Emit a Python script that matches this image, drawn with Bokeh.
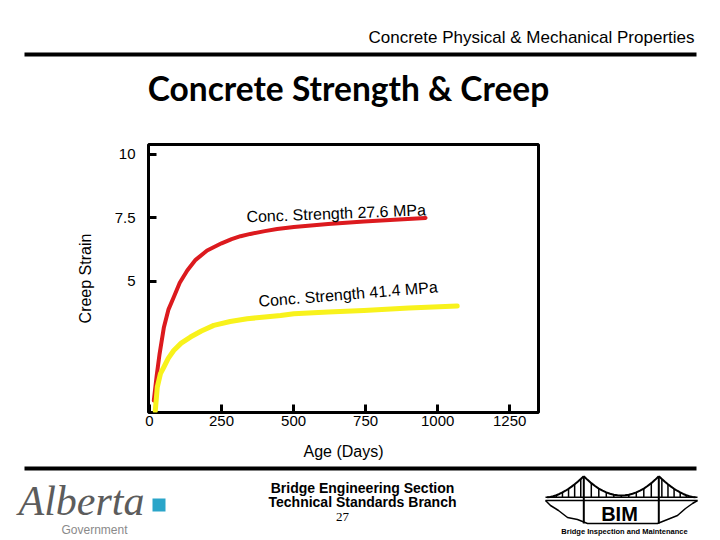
from bokeh.plotting import figure
from bokeh.models import Range1d, FixedTicker, CustomJSTickFormatter
from bokeh.core.properties import value
from bokeh.embed import file_html
from bokeh.resources import INLINE

# ---------------- data ----------------
age_red = [15, 25, 35, 50, 66, 84, 105, 131, 160, 200, 250, 285, 316, 350, 400, 443, 501, 620, 744, 850, 958]
strain_red = [0.31, 1.3, 2.15, 3.2, 3.9, 4.38, 4.95, 5.43, 5.85, 6.22, 6.50, 6.665, 6.78, 6.87, 6.98, 7.06, 7.14, 7.26, 7.36, 7.43, 7.5]

age_yellow = [20, 27, 38, 50, 65, 84, 110, 142, 180, 223, 280, 339, 400, 455, 501, 620, 744, 900, 1068]
strain_yellow = [-0.1, 0.84, 1.37, 1.63, 1.97, 2.28, 2.57, 2.81, 3.05, 3.27, 3.42, 3.53, 3.60, 3.66, 3.73, 3.80, 3.86, 3.95, 4.03]

series_labels = ["Conc. Strength 27.6 MPa", "Conc. Strength 41.4 MPa"]
label_age = [648, 689]
label_strain = [7.68, 4.5]
label_angle = [0.039, 0.081]

x_ticks = [0, 250, 500, 750, 1000, 1250]
y_ticks = [5, 7.5, 10]

header_text = "Concrete Physical & Mechanical Properties"
title_text = "Concrete Strength & Creep"
footer_lines = ["Bridge Engineering Section", "Technical Standards Branch"]
page_number = "27"

FONT = "Liberation Sans"
W = 704


def blank(height):
    fig = figure(width=W, height=height, x_range=Range1d(0, W), y_range=Range1d(height, 0),
                 output_backend="svg", toolbar_location=None,
                 x_axis_location=None, y_axis_location=None, min_border=0,
                 outline_line_color=None)
    fig.grid.grid_line_color = None
    return fig


def put(fig, x, y, txt, size, align="center", font=FONT, style="normal", color="#000000"):
    fig.text(x=x, y=y, text=txt, text_align=align, text_baseline="middle",
             text_font=value(font), text_font_style=style, text_font_size=value(size),
             text_color=color)


# ---------------- header (page y 0-130) ----------------
h = blank(130)
put(h, [694], [37], [header_text], "17px", align="right")
h.segment(x0=[24], y0=[54], x1=[696], y1=[54], line_color="#000000", line_width=4)
put(h, [348], [87.5], [title_text], "33.5px", font="Lato", style="bold")

# ---------------- main chart (page y 130-462) ----------------
p = figure(width=W, height=332, x_range=Range1d(-3.5, 1350), y_range=Range1d(-0.16, 10.39),
           output_backend="svg", toolbar_location=None,
           min_border_left=148, min_border_right=166, min_border_top=14, min_border_bottom=50,
           outline_line_color="#000000", outline_line_width=3)
p.grid.grid_line_color = None

p.xaxis.ticker = FixedTicker(ticks=x_ticks)
p.yaxis.ticker = FixedTicker(ticks=y_ticks)
p.yaxis.formatter = CustomJSTickFormatter(code="return tick.toString();")
p.xaxis.axis_label = "Age (Days)"
p.yaxis.axis_label = "Creep Strain"
for ax in (p.xaxis[0], p.yaxis[0]):
    ax.axis_line_color = None
    ax.major_tick_in = 8
    ax.major_tick_out = 0
    ax.major_tick_line_width = 3
    ax.major_tick_line_color = "#000000"
    ax.minor_tick_line_color = None
    ax.major_label_text_font = FONT
    ax.major_label_text_font_size = "15px"
    ax.major_label_text_color = "#000000"
    ax.axis_label_text_font = FONT
    ax.axis_label_text_font_size = "16px"
    ax.axis_label_text_font_style = "normal"
    ax.axis_label_text_color = "#000000"
p.xaxis.major_label_standoff = 3
p.xaxis.axis_label_standoff = 14
p.yaxis.major_label_standoff = 13
p.yaxis.axis_label_standoff = 18

p.line(age_red, strain_red, line_color="#dc1a1e", line_width=4, line_cap="round", line_join="round")
p.line(age_yellow, strain_yellow, line_color="#f8f21c", line_width=5, line_cap="round", line_join="round")

for i in range(2):
    p.text(x=[label_age[i]], y=[label_strain[i]], text=[series_labels[i]], angle=label_angle[i],
           text_align="center", text_baseline="middle",
           text_font=value(FONT), text_font_size=value("16px"), text_color="#000000")

# ---------------- footer (page y 462-540) ----------------
f = blank(78)
f.segment(x0=[24], y0=[6], x1=[696], y1=[6], line_color="#000000", line_width=4)

put(f, [362, 362], [25, 39.5], footer_lines, "14px", style="bold")
put(f, [342], [54.5], [page_number], "13px", font="Liberation Serif")

# Alberta logo
put(f, [18], [38], ["Alberta"], "42px", align="left", font="Liberation Serif", style="italic",
    color="#5c5c5c")
f.quad(left=[152], right=[165], top=[36], bottom=[49], fill_color="#2aa5c9", line_color=None)
put(f, [94], [67.5], ["Government"], "12px", color="#8a8a8a")

# BIM logo
tl = (583.3, 13.7)
tr = (658.3, 13.7)
deck_y = 34.7
mid = (tl[0] + tr[0]) / 2
half = (tr[0] - tl[0]) / 2
mx = [tl[0] + (tr[0] - tl[0]) * k / 20 for k in range(21)]
my = [tl[1] + (33 - tl[1]) * (1 - ((x - mid) / half) ** 2) for x in mx]
f.line(mx, my, line_color="#000000", line_width=2)
lx = [546.7 + (tl[0] - 546.7) * k / 12 for k in range(13)]
ly = [deck_y - (deck_y - tl[1]) * ((x - 546.7) / (tl[0] - 546.7)) ** 1.7 for x in lx]
f.line(lx, ly, line_color="#000000", line_width=2)
rx = [695.0 - (695.0 - tr[0]) * k / 12 for k in range(13)]
ry = [deck_y - (deck_y - tr[1]) * ((695.0 - x) / (695.0 - tr[0])) ** 1.7 for x in rx]
f.line(rx, ry, line_color="#000000", line_width=2)
hx, hy0 = [], []
for x, y in zip(mx[2:-2:2], my[2:-2:2]):
    hx.append(x); hy0.append(y)
for x, y in zip(lx[3:-1:2], ly[3:-1:2]):
    hx.append(x); hy0.append(y)
for x, y in zip(rx[3:-1:2], ry[3:-1:2]):
    hx.append(x); hy0.append(y)
f.segment(x0=hx, y0=hy0, x1=hx, y1=[deck_y] * len(hx), line_color="#000000", line_width=1.5)
f.segment(x0=[545, 545], y0=[deck_y, 38], x1=[697, 697], y1=[deck_y, 38], line_color="#000000", line_width=1.5)
f.segment(x0=[tl[0], tr[0]], y0=[tl[1], tr[1]], x1=[tl[0], tr[0]], y1=[61, 61], line_color="#000000", line_width=2)
gx = [545, 550, 558, 567, 577, 587, 657, 667, 677, 685, 692, 697]
gy = [38, 43, 48, 55, 57, 61, 61, 57, 53, 46, 41, 38]
f.line(gx, gy, line_color="#000000", line_width=1.5)
put(f, [619], [51], ["BIM"], "20px", style="bold")
put(f, [624], [68.5], ["Bridge Inspection and Maintenance"], "7.5px", style="bold")

open("out.html", "w").write(file_html([h, p, f], INLINE))
